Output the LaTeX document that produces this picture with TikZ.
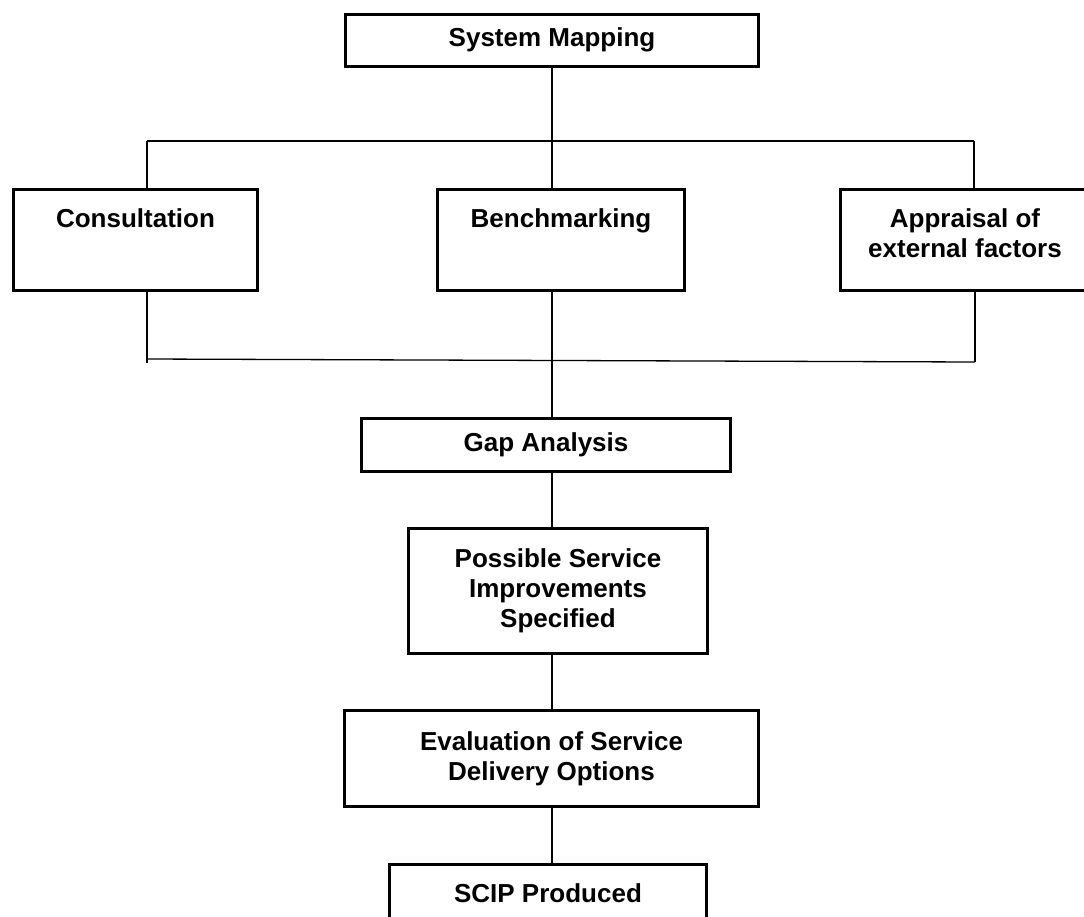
\documentclass[tikz,border=0pt]{standalone}
\usepackage{fontspec}
\setmainfont{Liberation Sans}
\usepackage{tikz}
\tikzstyle{stage} = [rectangle, draw = black, line width=3pt, inner sep=0pt, align=center, font=\bfseries\fontsize{26}{30}\selectfont]
\tikzstyle{toptext} = [text height=19pt, text depth=45pt]
\tikzstyle{toptwo} = [text height=49pt, text depth=15pt]
\tikzstyle{link} = [line width=1.3pt]

\begin{document}
\begin{tikzpicture}[x=1pt,y=-1pt]
	\path[use as bounding box, clip] (0,0) rectangle (1084,916);
	\node (SM) [stage, minimum width=413pt, minimum height=52pt] at (552,40) {System Mapping};
	\node (CONS) [stage, toptext, minimum width=244pt, minimum height=101pt] at (135.5,240) {Consultation};
	\node (BENCH) [stage, toptext, minimum width=247pt, minimum height=101pt] at (561,240) {Benchmarking};
	\node (APPR) [stage, toptwo, minimum width=250pt, minimum height=101pt] at (965,240) {Appraisal of\\external factors};
	\node (GAP) [stage, minimum width=369pt, minimum height=53pt] at (546,445) {Gap Analysis};
	\node (PSI) [stage, minimum width=299pt, minimum height=125pt] at (558,591) {Possible Service\\Improvements\\Specified};
	\node (EVAL) [stage, minimum width=414pt, minimum height=96pt] at (551.5,758.5) {Evaluation of Service\\Delivery Options};
	\node (SCIP) [stage, minimum width=317pt, minimum height=57pt] at (548,893) {SCIP Produced};
	% branch lines
	\coordinate (TL) at (147,141);
	\coordinate (TR) at (974,141);
	\coordinate (BL) at (147,359);
	\coordinate (BR) at (975,362);
	\draw [link](SM.south) -- (BENCH.north -| SM.south);
	\draw [link](TL) -- (TR);
	\draw [link](TL) -- (TL |- CONS.north);
	\draw [link](TR) -- (TR |- APPR.north);
	\draw [link](CONS.south -| BL) -- ([yshift=-4pt]BL);
	\draw [link](APPR.south -| BR) -- (BR);
	\draw [link](BL) -- (BR);
	\draw [link](BENCH.south -| SM.south) -- (GAP.north -| SM.south);
	\draw [link](GAP.south -| SM.south) -- (PSI.north -| SM.south);
	\draw [link](PSI.south -| SM.south) -- (EVAL.north -| SM.south);
	\draw [link](EVAL.south -| SM.south) -- (SCIP.north -| SM.south);
\end{tikzpicture}
\end{document}
